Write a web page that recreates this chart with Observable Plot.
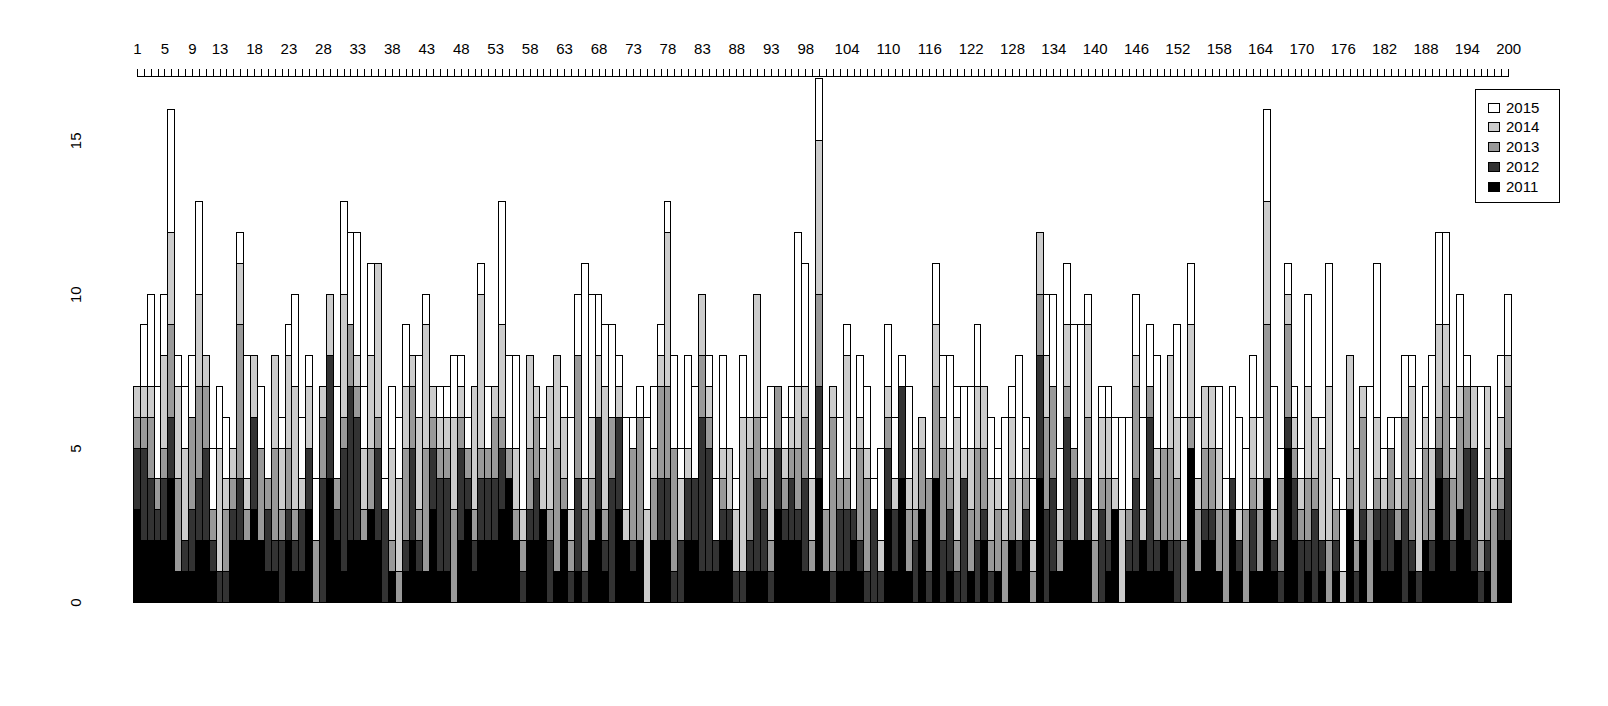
<!DOCTYPE html>
<html><head><meta charset="utf-8">
<script src="https://cdn.jsdelivr.net/npm/d3@7"></script>
<script src="https://cdn.jsdelivr.net/npm/@observablehq/plot@0.6"></script>
<style>
html,body{margin:0;padding:0;background:#fff;}
#wrap{position:relative;width:1608px;height:706px;overflow:hidden;}
#legend{position:absolute;left:1475px;top:89px;width:85px;height:114px;border:1px solid #000;box-sizing:border-box;background:#fff;font-family:"Liberation Sans",Arial,sans-serif;font-size:15px;color:#000;}
.key{position:absolute;left:12px;width:12px;height:10px;border:1px solid #000;box-sizing:border-box;}
.lab{position:absolute;left:30px;line-height:16px;height:16px;}
</style></head><body><div id="wrap"></div>
<script>
const bars = d3.range(1, 201);
const years = ["2011", "2012", "2013", "2014", "2015"];
const colors = ["#000000", "#333333", "#999999", "#cccccc", "#ffffff"];
const labelTicks = [1,5,9,13,18,23,28,33,38,43,48,53,58,63,68,73,78,83,88,93,98,104,110,116,122,128,134,140,146,152,158,164,170,176,182,188,194,200];
const yTicks = [0, 5, 10, 15];

const v2011 = [3,2,2,2,2,4,1,1,1,2, 2,1,0,0,2,2,2,3,2,1, 1,0,2,1,1,3,0,0,4,2, 1,2,2,2,3,2,0,1,0,1,
  2,1,1,3,1,1,0,2,3,1, 2,2,2,3,4,2,0,2,2,3, 0,1,3,0,1,0,2,3,1,0, 3,2,1,2,0,2,2,2,0,0,
  2,2,1,1,1,2,2,0,0,1, 1,1,0,3,2,2,2,1,1,4, 1,0,1,1,2,1,0,0,0,3, 1,4,1,0,3,0,4,0,1,0,
  0,1,0,2,0,1,0,2,1,2, 0,4,0,1,1,2,2,2,2,0, 0,1,3,0,1,1,2,1,1,2, 1,0,0,5,1,2,2,1,0,3,
  1,0,1,1,4,1,0,5,2,0, 1,0,1,0,1,0,3,0,2,0, 2,1,1,2,0,1,0,2,1,4, 2,1,3,2,1,0,1,0,2,2];
const v2012 = [2,3,2,1,2,2,0,1,2,2, 3,1,1,1,1,2,0,3,0,2, 1,2,1,1,2,2,0,4,4,1, 4,5,4,0,0,3,3,0,0,1,
  3,1,0,2,3,3,0,3,1,1, 2,2,2,2,0,0,1,1,2,0, 2,0,0,1,3,1,0,3,1,4, 3,0,1,0,0,0,2,2,1,2,
  2,2,5,4,1,1,1,1,1,1, 3,2,1,2,1,2,1,3,0,3, 0,1,2,2,1,1,1,3,1,2, 2,3,0,2,0,1,0,2,2,1,
  4,0,2,1,1,0,0,0,1,1, 0,4,3,3,0,4,2,0,2,0, 3,1,0,0,1,3,0,5,1,0, 1,2,0,0,0,1,1,0,0,1,
  1,0,2,0,0,1,1,1,2,2, 1,3,1,0,1,0,0,1,1,0, 1,2,2,0,3,1,1,0,1,1, 2,1,0,3,4,1,1,0,1,3];
const v2013 = [1,1,2,1,1,3,3,0,3,3, 2,1,0,2,1,5,1,0,3,1, 3,1,2,1,0,0,2,2,0,1, 1,2,1,1,2,1,0,1,1,3,
  2,1,4,1,1,1,3,1,1,1, 1,1,2,1,1,1,1,2,2,0, 1,4,1,1,4,2,2,0,1,2, 0,0,3,4,0,2,3,3,4,0,
  0,0,2,1,0,1,0,0,0,3, 2,1,1,2,1,1,2,2,1,3, 2,5,1,1,0,3,3,0,0,1, 0,0,2,1,2,3,3,3,1,1,
  0,2,3,2,1,2,2,2,0,1, 1,2,3,3,1,1,1,0,2,2, 1,2,0,0,1,3,0,1,2,3, 3,2,2,1,2,2,2,2,3,0,
  0,3,1,2,5,0,3,3,1,1, 2,1,0,2,1,0,1,1,3,3, 1,0,2,1,3,2,0,3,1,1, 3,2,3,2,0,1,3,3,1,2];
const v2014 = [1,1,1,0,3,3,3,3,0,3, 1,0,4,1,1,2,1,2,0,0, 3,2,3,4,1,2,0,1,2,0, 4,0,1,2,3,5,0,3,3,2,
  1,3,4,1,1,1,3,1,0,4, 5,0,1,3,0,2,1,3,1,2, 4,3,2,1,0,1,2,2,4,0, 1,1,0,0,3,1,1,5,0,2,
  1,0,2,1,0,1,2,2,5,1, 4,1,3,0,1,1,2,1,2,5, 0,1,0,4,0,1,1,0,1,1, 1,0,1,2,1,0,2,1,1,4,
  1,2,2,2,2,1,1,2,2,1, 1,2,2,0,1,2,0,2,3,1, 2,2,1,3,0,1,1,0,1,0, 3,2,0,3,1,2,2,2,0,0,
  1,0,2,1,4,1,0,1,1,1, 3,2,3,5,0,1,4,3,1,0, 2,1,0,1,0,3,3,1,2,3, 2,1,1,0,2,2,2,1,2,1];
const v2015 = [0,2,3,3,2,4,1,2,2,3, 0,2,2,2,0,1,4,0,2,0, 0,1,1,3,2,1,2,0,0,3, 3,3,4,2,3,0,1,2,2,2,
  0,2,1,0,1,1,2,1,1,0, 1,2,0,4,3,3,0,0,0,1, 0,0,1,3,2,7,4,2,2,3, 1,3,1,1,3,2,1,1,3,1,
  3,3,0,1,2,3,0,1,2,0, 0,1,2,0,1,1,5,4,1,2, 2,0,2,1,2,2,2,1,3,2, 2,1,3,0,0,0,2,2,3,1,
  2,2,2,0,2,1,3,1,4,1, 2,0,2,3,2,2,4,5,1,0, 1,1,2,3,3,2,3,2,3,0, 0,3,4,2,2,0,0,2,1,3,
  3,2,2,2,3,4,1,1,1,1, 3,0,1,4,1,2,0,0,0,4, 5,1,1,2,2,1,1,1,3,3, 3,1,3,1,0,3,0,0,2,2];

const series = [v2011, v2012, v2013, v2014, v2015];
const data = bars.flatMap((b, i) => years.map((yr, j) => ({bar: b, year: yr, value: series[j][i]})));
const yTop = 17.09;
const font = '"Liberation Sans", Arial, sans-serif';

const chart = Plot.plot({
  width: 1608, height: 706,
  marginLeft: 133.4, marginRight: 96.4, marginTop: 76, marginBottom: 104,
  x: {type: "band", domain: bars, padding: 0},
  y: {domain: [0, yTop], axis: null},
  color: {domain: years, range: colors},
  style: {fontFamily: font, fontSize: "15px", background: "#fff", color: "#000"},
  marks: [
    Plot.barY(data, {x: "bar", y: "value", fill: "year", stroke: "#000", strokeWidth: 1, order: years, shapeRendering: "crispEdges"}),
    Plot.lineY([1, 200], {x: d => d, y: () => yTop, stroke: "#000", strokeWidth: 1, shapeRendering: "crispEdges"}),
    Plot.axisX({anchor: "top", ticks: bars, tickSize: 8, tickFormat: () => "", label: null, stroke: "#000", shapeRendering: "crispEdges"}),
    Plot.text(labelTicks, {x: d => d, frameAnchor: "top", lineAnchor: "middle", dy: -27, text: d => String(d), fontSize: 15, fill: "#000"}),
    Plot.text(yTicks, {y: d => d, frameAnchor: "left", textAnchor: "middle", lineAnchor: "middle", dx: -58, rotate: -90, text: d => String(d), fontSize: 15, fill: "#000"})
  ]
});
const wrap = document.getElementById("wrap");
wrap.appendChild(chart);

const legend = d3.select(wrap).append("div").attr("id", "legend");
const legYears = years.slice().reverse();
const legColors = colors.slice().reverse();
legYears.forEach((yr, i) => {
  const cy = 17.7 + i * 19.75;
  legend.append("div").attr("class", "key").style("top", (cy - 5) + "px").style("background", legColors[i]);
  legend.append("div").attr("class", "lab").style("top", (cy - 8) + "px").text(yr);
});
</script></body></html>
